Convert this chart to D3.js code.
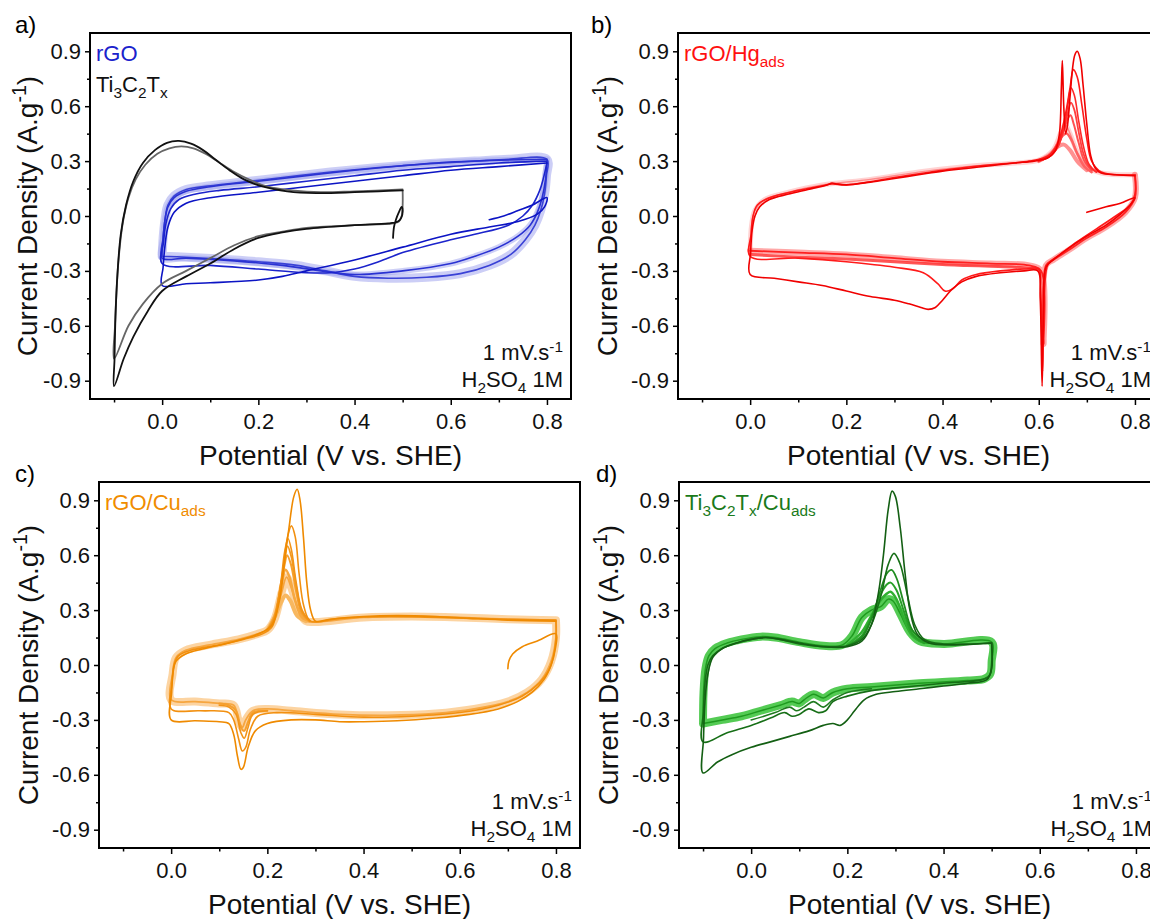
<!DOCTYPE html>
<html>
<head>
<meta charset="utf-8">
<script src="https://cdn.jsdelivr.net/npm/d3@7"></script>
<style>
  body { margin: 0; background: #fff; }
  svg { display: block; font-family: "Liberation Sans", Arial, sans-serif; }
</style>
</head>
<body>
<div id="chart"></div>
<script>
// cyclic voltammograms, points are [potential (V vs SHE), current density (A/g)]

// axis ticks
var xTicks = [0, 0.2, 0.4, 0.6, 0.8];
var xMinor = [-0.1, 0.1, 0.3, 0.5, 0.7];
var yTicks = [-0.9, -0.6, -0.3, 0, 0.3, 0.6, 0.9];
var yMinor = [-0.75, -0.45, -0.15, 0.15, 0.45, 0.75];

// a) rGO
var rgoCycle1 = [[0.68,-0.02],[0.71,0.0],[0.74,0.03],[0.77,0.06],[0.8,0.1],
  [0.795,0.05],[0.78,0.01],[0.74,-0.03],[0.68,-0.06],[0.6,-0.1],[0.5,-0.17],[0.4,-0.24],[0.3,-0.3],[0.25,-0.33],[0.2,-0.35],[0.1,-0.365],[0.05,-0.37],[0.0,-0.38],
  [0.002,-0.28],[0.006,-0.16],[0.012,-0.06],[0.025,0.02],[0.05,0.07],[0.1,0.1],[0.2,0.13],[0.3,0.16],[0.4,0.19],[0.5,0.22],[0.6,0.25],[0.7,0.27],[0.8,0.29]];
var rgoCycle2 = [[0.8,0.29],[0.792,0.2],[0.785,0.14],[0.77,0.06],[0.75,0.0],[0.72,-0.05],[0.65,-0.1],[0.6,-0.13],[0.5,-0.2],[0.45,-0.25],[0.4,-0.29],[0.35,-0.31],[0.3,-0.31],[0.2,-0.29],[0.1,-0.27],[0.0,-0.26],
  [0.003,-0.14],[0.008,-0.04],[0.018,0.04],[0.035,0.09],[0.07,0.12],[0.12,0.14],[0.2,0.16],[0.3,0.19],[0.4,0.22],[0.5,0.25],[0.6,0.27],[0.7,0.29],[0.8,0.3]];
var rgoCycle3 = [[0.8,0.3],[0.797,0.2],[0.79,0.1],[0.78,0.02],[0.765,-0.05],[0.74,-0.11],[0.7,-0.17],[0.65,-0.22],[0.6,-0.26],[0.5,-0.3],[0.4,-0.32],[0.33,-0.3],[0.25,-0.27],[0.15,-0.245],[0.05,-0.23],[0.0,-0.23],
  [0.002,-0.12],[0.006,-0.02],[0.012,0.05],[0.025,0.1],[0.05,0.135],[0.1,0.16],[0.2,0.19],[0.3,0.22],[0.4,0.25],[0.5,0.275],[0.6,0.295],[0.7,0.305],[0.8,0.31]];
var rgoLate = [[0.0,-0.22],[0.002,-0.12],[0.006,-0.02],[0.012,0.06],[0.025,0.11],[0.05,0.145],[0.1,0.165],[0.15,0.18],[0.25,0.21],[0.35,0.24],[0.45,0.265],[0.55,0.285],[0.65,0.3],[0.72,0.31],[0.8,0.31],
  [0.799,0.22],[0.795,0.12],[0.787,0.03],[0.775,-0.05],[0.755,-0.13],[0.725,-0.21],[0.68,-0.27],[0.62,-0.315],[0.55,-0.335],[0.47,-0.34],[0.4,-0.33],[0.34,-0.3],[0.28,-0.27],[0.2,-0.25],[0.12,-0.235],[0.05,-0.225],[0.0,-0.22]];

// a) Ti3C2Tx
var ti3c2Cycle1 = [[0.48,-0.12],[0.482,-0.06],[0.486,-0.02],[0.492,0.02],[0.498,0.05],[0.5,0.03],[0.497,-0.01],[0.49,-0.03],[0.47,-0.04],[0.4,-0.05],[0.3,-0.07],[0.25,-0.09],[0.2,-0.12],[0.15,-0.18],[0.1,-0.26],[0.05,-0.33],[0.0,-0.41],[-0.03,-0.52],[-0.06,-0.66],[-0.08,-0.78],[-0.1,-0.93],
  [-0.099,-0.78],[-0.097,-0.55],[-0.093,-0.32],[-0.086,-0.1],[-0.075,0.06],[-0.06,0.19],[-0.04,0.29],[-0.015,0.36],[0.01,0.4],[0.035,0.41],[0.06,0.395],[0.085,0.36],[0.11,0.31],[0.14,0.25],[0.17,0.2],[0.21,0.16],[0.26,0.135],[0.32,0.125],[0.4,0.13],[0.45,0.135],[0.5,0.14]];
var ti3c2Cycle2 = [[0.5,0.14],[0.5,0.06],[0.498,0.0],[0.492,-0.03],[0.48,-0.04],[0.4,-0.05],[0.3,-0.065],[0.25,-0.085],[0.2,-0.11],[0.15,-0.16],[0.1,-0.23],[0.05,-0.3],[0.0,-0.37],[-0.04,-0.48],[-0.07,-0.6],[-0.1,-0.78],
  [-0.098,-0.6],[-0.095,-0.42],[-0.09,-0.22],[-0.082,-0.04],[-0.07,0.1],[-0.055,0.2],[-0.035,0.28],[-0.01,0.34],[0.015,0.37],[0.04,0.38],[0.065,0.37],[0.09,0.34],[0.12,0.29],[0.15,0.24],[0.18,0.2],[0.22,0.16],[0.27,0.14],[0.33,0.13],[0.4,0.135],[0.5,0.145]];

// b) rGO/Hg ads
var hgCycle1 = [[0.7,0.02],[0.74,0.05],[0.77,0.07],[0.8,0.1],
  [0.79,0.06],[0.77,0.01],[0.74,-0.05],[0.7,-0.11],[0.66,-0.18],[0.63,-0.24],[0.615,-0.28],[0.61,-0.5],[0.607,-0.93],[0.603,-0.45],[0.598,-0.3],[0.57,-0.3],[0.52,-0.31],[0.47,-0.33],[0.44,-0.36],[0.42,-0.4],[0.4,-0.46],[0.385,-0.5],[0.37,-0.51],[0.355,-0.5],[0.33,-0.48],[0.3,-0.46],[0.25,-0.44],[0.2,-0.41],[0.15,-0.38],[0.1,-0.36],[0.05,-0.34],[0.0,-0.32],
  [0.001,-0.2],[0.004,-0.08],[0.01,0.0],[0.02,0.05],[0.04,0.09],[0.08,0.12],[0.12,0.145],[0.16,0.17],[0.17,0.18],[0.18,0.175],[0.2,0.17],[0.25,0.185],[0.3,0.205],[0.35,0.225],[0.4,0.245],[0.45,0.26],[0.5,0.275],[0.55,0.29],[0.59,0.3],[0.62,0.32],[0.635,0.36],[0.643,0.45],[0.647,0.7],[0.649,0.85],[0.652,0.6],[0.656,0.45],[0.66,0.5],[0.665,0.65],[0.67,0.8],[0.675,0.88],[0.68,0.9],[0.686,0.86],[0.692,0.72],[0.7,0.5],[0.708,0.33],[0.718,0.26],[0.73,0.235],[0.76,0.225],[0.8,0.22]];
var hgCycle2 = [[0.8,0.22],[0.8,0.12],[0.79,0.06],[0.76,0.0],[0.72,-0.07],[0.68,-0.14],[0.645,-0.21],[0.62,-0.26],[0.612,-0.4],[0.608,-0.85],[0.604,-0.4],[0.6,-0.29],[0.57,-0.29],[0.52,-0.3],[0.47,-0.32],[0.44,-0.35],[0.42,-0.4],[0.405,-0.41],[0.39,-0.37],[0.36,-0.31],[0.3,-0.28],[0.2,-0.25],[0.1,-0.23],[0.0,-0.22],
  [0.002,-0.1],[0.006,0.0],[0.015,0.06],[0.04,0.1],[0.1,0.14],[0.15,0.165],[0.17,0.175],[0.2,0.17],[0.3,0.21],[0.4,0.25],[0.5,0.28],[0.58,0.3],[0.62,0.33],[0.64,0.4],[0.655,0.55],[0.665,0.7],[0.672,0.8],[0.68,0.76],[0.69,0.6],[0.7,0.42],[0.71,0.3],[0.73,0.24],[0.8,0.225]];
var hgLateCathodic = [[0.8,0.225],[0.8,0.1],[0.78,0.02],[0.74,-0.06],[0.7,-0.12],[0.66,-0.19],[0.63,-0.24],[0.615,-0.27],[0.61,-0.7],[0.605,-0.3],[0.58,-0.27],[0.5,-0.26],[0.4,-0.25],[0.3,-0.23],[0.2,-0.21],[0.1,-0.2],[0.0,-0.19]];
var hgLateAnodic = [[0.0,-0.19],[0.003,-0.05],[0.01,0.03],[0.03,0.09],[0.08,0.13],[0.15,0.17],[0.25,0.2],[0.35,0.24],[0.45,0.27],[0.55,0.29],[0.6,0.305],[0.63,0.36],[0.645,0.45],[0.655,0.5],[0.665,0.45],[0.68,0.35],[0.7,0.27],[0.73,0.235],[0.8,0.225]];
var hgMidCathodic = [[0.6,-0.29],[0.55,-0.28],[0.5,-0.275],[0.45,-0.27],[0.4,-0.265],[0.3,-0.25],[0.2,-0.235],[0.1,-0.225],[0.0,-0.21]];
var hgPeak3 = [[0.6,0.3],[0.625,0.33],[0.64,0.38],[0.652,0.48],[0.66,0.6],[0.667,0.7],[0.674,0.66],[0.683,0.52],[0.693,0.38],[0.705,0.28],[0.72,0.24]];
var hgPeak4 = [[0.6,0.3],[0.625,0.33],[0.64,0.38],[0.652,0.47],[0.66,0.56],[0.667,0.62],[0.674,0.58],[0.683,0.46],[0.693,0.34],[0.705,0.27],[0.72,0.24]];
var hgPeak5 = [[0.6,0.3],[0.625,0.33],[0.64,0.39],[0.652,0.47],[0.66,0.53],[0.666,0.55],[0.673,0.5],[0.683,0.4],[0.695,0.3],[0.71,0.25]];
var hgPeak6 = [[0.6,0.3],[0.625,0.34],[0.64,0.4],[0.65,0.44],[0.658,0.45],[0.667,0.42],[0.68,0.34],[0.695,0.27],[0.71,0.24]];
var hgPeak7 = [[0.6,0.3],[0.625,0.34],[0.64,0.38],[0.652,0.39],[0.665,0.36],[0.68,0.3],[0.7,0.25]];

// c) rGO/Cu ads
var cuCycle1 = [[0.7,-0.02],[0.702,0.02],[0.71,0.06],[0.73,0.1],[0.76,0.13],[0.8,0.17],
  [0.798,0.08],[0.79,0.0],[0.775,-0.08],[0.75,-0.15],[0.72,-0.2],[0.68,-0.24],[0.62,-0.27],[0.55,-0.29],[0.47,-0.305],[0.4,-0.31],[0.35,-0.31],[0.3,-0.3],[0.25,-0.3],[0.2,-0.32],[0.175,-0.36],[0.16,-0.45],[0.15,-0.56],[0.145,-0.57],[0.138,-0.5],[0.13,-0.38],[0.12,-0.32],[0.1,-0.31],[0.05,-0.305],[0.0,-0.3],
  [0.001,-0.15],[0.004,-0.04],[0.01,0.02],[0.03,0.06],[0.07,0.09],[0.12,0.12],[0.16,0.15],[0.19,0.18],[0.21,0.22],[0.225,0.35],[0.235,0.55],[0.245,0.75],[0.255,0.92],[0.262,0.96],[0.268,0.9],[0.275,0.7],[0.282,0.45],[0.29,0.3],[0.3,0.24],[0.33,0.25],[0.4,0.265],[0.47,0.27],[0.55,0.265],[0.62,0.255],[0.7,0.245],[0.8,0.24]];
var cuCycle2 = [[0.8,0.24],[0.8,0.15],[0.795,0.05],[0.785,-0.03],[0.765,-0.1],[0.73,-0.17],[0.68,-0.22],[0.6,-0.26],[0.5,-0.28],[0.4,-0.285],[0.3,-0.27],[0.22,-0.26],[0.18,-0.28],[0.165,-0.35],[0.155,-0.45],[0.148,-0.47],[0.14,-0.4],[0.13,-0.3],[0.12,-0.26],[0.06,-0.25],[0.0,-0.24],
  [0.002,-0.1],[0.006,0.0],[0.015,0.05],[0.04,0.08],[0.1,0.11],[0.15,0.14],[0.19,0.17],[0.21,0.21],[0.222,0.33],[0.232,0.5],[0.242,0.7],[0.25,0.76],[0.258,0.7],[0.266,0.5],[0.276,0.32],[0.29,0.24],[0.35,0.255],[0.45,0.265],[0.55,0.26],[0.7,0.25],[0.8,0.245]];
var cuLate = [[0.8,0.245],[0.8,0.15],[0.79,0.02],[0.77,-0.08],[0.74,-0.15],[0.7,-0.2],[0.63,-0.24],[0.55,-0.265],[0.45,-0.275],[0.35,-0.27],[0.25,-0.25],[0.2,-0.24],[0.17,-0.25],[0.155,-0.3],[0.148,-0.34],[0.14,-0.3],[0.13,-0.22],[0.1,-0.21],[0.05,-0.2],[0.0,-0.19],
  [0.003,-0.05],[0.01,0.04],[0.03,0.08],[0.08,0.11],[0.14,0.14],[0.18,0.17],[0.2,0.19],[0.215,0.25],[0.23,0.4],[0.24,0.48],[0.25,0.42],[0.265,0.3],[0.28,0.24],[0.3,0.235],[0.4,0.26],[0.5,0.265],[0.6,0.26],[0.7,0.25],[0.8,0.245]];
var cuPeak3 = [[0.2,0.19],[0.215,0.26],[0.228,0.45],[0.236,0.62],[0.243,0.69],[0.25,0.63],[0.26,0.45],[0.272,0.3],[0.288,0.24]];
var cuPeak4 = [[0.2,0.19],[0.215,0.26],[0.228,0.44],[0.236,0.58],[0.242,0.65],[0.25,0.59],[0.26,0.43],[0.272,0.29],[0.288,0.24]];
var cuPeak5 = [[0.2,0.19],[0.215,0.26],[0.228,0.43],[0.236,0.55],[0.241,0.6],[0.249,0.55],[0.26,0.4],[0.272,0.28],[0.288,0.24]];
var cuPeak6 = [[0.2,0.19],[0.215,0.27],[0.228,0.42],[0.238,0.52],[0.246,0.48],[0.258,0.35],[0.272,0.26],[0.288,0.24]];
var cuPeak7 = [[0.2,0.19],[0.215,0.26],[0.228,0.34],[0.238,0.38],[0.248,0.35],[0.262,0.27],[0.28,0.24]];
var cuDip3 = [[0.2,-0.25],[0.17,-0.27],[0.16,-0.34],[0.152,-0.4],[0.145,-0.37],[0.135,-0.27],[0.12,-0.23],[0.1,-0.22]];
var cuDip4 = [[0.2,-0.25],[0.17,-0.26],[0.16,-0.31],[0.152,-0.36],[0.145,-0.34],[0.135,-0.25],[0.12,-0.22],[0.1,-0.21]];

// d) Ti3C2Tx/Cu ads
var cuTiCycle1 = [[0.5,0.12],[0.5,-0.02],[0.49,-0.08],[0.45,-0.1],[0.4,-0.115],[0.35,-0.13],[0.3,-0.145],[0.26,-0.16],[0.235,-0.19],[0.215,-0.25],[0.2,-0.3],[0.185,-0.33],[0.17,-0.32],[0.15,-0.33],[0.12,-0.36],[0.08,-0.39],[0.04,-0.42],[0.0,-0.45],[-0.04,-0.49],[-0.07,-0.53],[-0.1,-0.59],
  [-0.099,-0.4],[-0.096,-0.2],[-0.09,-0.05],[-0.08,0.04],[-0.06,0.09],[-0.03,0.12],[0.0,0.14],[0.03,0.15],[0.06,0.14],[0.1,0.12],[0.15,0.1],[0.2,0.1],[0.23,0.13],[0.25,0.22],[0.265,0.4],[0.275,0.6],[0.285,0.85],[0.293,0.95],[0.3,0.92],[0.31,0.75],[0.32,0.5],[0.33,0.3],[0.345,0.17],[0.37,0.12],[0.42,0.11],[0.5,0.12]];
var cuTiCycle2 = [[0.5,0.12],[0.5,0.0],[0.495,-0.06],[0.48,-0.08],[0.4,-0.1],[0.3,-0.125],[0.25,-0.14],[0.2,-0.17],[0.17,-0.2],[0.155,-0.25],[0.14,-0.26],[0.12,-0.24],[0.1,-0.27],[0.085,-0.28],[0.07,-0.26],[0.04,-0.29],[0.0,-0.33],[-0.05,-0.37],[-0.1,-0.42],
  [-0.099,-0.25],[-0.096,-0.1],[-0.09,0.0],[-0.08,0.05],[-0.06,0.09],[-0.03,0.12],[0.0,0.14],[0.03,0.15],[0.06,0.14],[0.1,0.115],[0.15,0.1],[0.2,0.105],[0.23,0.14],[0.25,0.22],[0.27,0.38],[0.285,0.55],[0.297,0.61],[0.31,0.55],[0.325,0.38],[0.34,0.22],[0.36,0.14],[0.4,0.115],[0.45,0.115],[0.5,0.12]];
var cuTiLate = [[-0.1,-0.32],[-0.099,-0.15],[-0.095,-0.02],[-0.088,0.05],[-0.075,0.09],[-0.05,0.12],[-0.02,0.14],[0.02,0.155],[0.05,0.15],[0.1,0.125],[0.15,0.105],[0.19,0.11],[0.21,0.16],[0.23,0.26],[0.25,0.3],[0.27,0.32],[0.285,0.36],[0.295,0.35],[0.31,0.28],[0.33,0.18],[0.35,0.13],[0.4,0.115],[0.5,0.125],
  [0.5,0.02],[0.497,-0.05],[0.485,-0.075],[0.45,-0.085],[0.35,-0.1],[0.25,-0.12],[0.2,-0.13],[0.17,-0.15],[0.15,-0.18],[0.13,-0.16],[0.11,-0.19],[0.1,-0.21],[0.085,-0.2],[0.06,-0.22],[0.02,-0.25],[-0.02,-0.28],[-0.06,-0.3],[-0.1,-0.32]];
var cuTiPeak3 = [[0.2,0.105],[0.23,0.15],[0.25,0.25],[0.268,0.4],[0.282,0.5],[0.292,0.52],[0.303,0.47],[0.318,0.33],[0.335,0.19],[0.36,0.13]];
var cuTiPeak4 = [[0.2,0.105],[0.23,0.16],[0.25,0.26],[0.268,0.38],[0.282,0.44],[0.29,0.45],[0.302,0.41],[0.318,0.29],[0.335,0.17],[0.36,0.12]];
var cuTiPeak5 = [[0.2,0.11],[0.23,0.18],[0.25,0.27],[0.268,0.35],[0.282,0.39],[0.29,0.4],[0.302,0.36],[0.318,0.25],[0.335,0.16],[0.36,0.12]];
var cuTiDip3 = [[0.25,-0.13],[0.2,-0.15],[0.17,-0.19],[0.15,-0.23],[0.13,-0.2],[0.11,-0.23],[0.095,-0.25],[0.08,-0.23],[0.05,-0.26],[0.0,-0.3]];

// panel texts: [text, "sub" | "sup" | ""]
var labelRgo = [["rGO"]];
var labelTi = [["Ti"],["3","sub"],["C"],["2","sub"],["T"],["x","sub"]];
var labelHg = [["rGO/Hg"],["ads","sub"]];
var labelCu = [["rGO/Cu"],["ads","sub"]];
var labelTiCu = [["Ti"],["3","sub"],["C"],["2","sub"],["T"],["x","sub"],["/Cu"],["ads","sub"]];
var labelRate = [["1 mV.s"],["-1","sup"]];
var labelAcid = [["H"],["2","sub"],["SO"],["4","sub"],[" 1M"]];
var yTitle = [["Current Density (A.g"],["-1","sup"],[")"]];
var xTitle = [["Potential (V vs. SHE)"]];

var W = 481, H = 366;

var svg = d3.select("#chart").append("svg")
  .attr("width", 1150).attr("height", 919);

function rich(text, parts, size) {
  var shift = 0;
  parts.forEach(function(p) {
    var mode = p[1] || "";
    var target = mode === "sub" ? 0.28 * size : (mode === "sup" ? -0.38 * size : 0);
    var ts = text.append("tspan").text(p[0]).attr("dy", target - shift);
    if (mode) ts.style("font-size", (size * 0.7) + "px");
    shift = target;
  });
}

var fmt = function(d) { return d.toFixed(1); };

function drawPanel(p, idx) {
  var g = svg.append("g").attr("transform", "translate(" + p.left + "," + p.top + ")");
  var x = d3.scaleLinear().domain([-0.15, 0.85]).range([0, W]);
  var y = d3.scaleLinear().domain([-1, 1]).range([H, 0]);

  g.append("clipPath").attr("id", "clip" + idx)
    .append("rect").attr("width", W).attr("height", H);

  var line = d3.line()
    .x(function(d) { return x(d[0]); })
    .y(function(d) { return y(d[1]); })
    .curve(d3.curveCatmullRom.alpha(0.5));

  var plot = g.append("g").attr("clip-path", "url(#clip" + idx + ")");
  p.curves.forEach(function(c) {
    plot.append("path")
      .datum(c.data)
      .attr("d", line)
      .attr("fill", "none")
      .attr("stroke", c.color)
      .attr("stroke-width", c.w)
      .attr("stroke-opacity", c.op || 1)
      .attr("stroke-linejoin", "round")
      .attr("stroke-linecap", "round");
  });

  // frame
  g.append("rect")
    .attr("width", W).attr("height", H)
    .attr("fill", "none").attr("stroke", "#000").attr("stroke-width", 2);

  // axes
  g.append("g").attr("transform", "translate(0," + H + ")")
    .call(d3.axisBottom(x).tickValues(xTicks).tickSize(6).tickPadding(8).tickFormat(fmt));
  g.append("g").attr("transform", "translate(0," + H + ")")
    .call(d3.axisBottom(x).tickValues(xMinor).tickSize(3.5).tickFormat(""));
  g.append("g")
    .call(d3.axisLeft(y).tickValues(yTicks).tickSize(5).tickPadding(4).tickFormat(fmt));
  g.append("g")
    .call(d3.axisLeft(y).tickValues(yMinor).tickSize(3).tickFormat(""));
  g.selectAll(".domain").remove();
  g.selectAll(".tick line").attr("stroke", "#000").attr("stroke-width", 1.5);
  g.selectAll(".tick text").style("font-size", "22px").attr("fill", "#111")
    .style("font-family", '"Liberation Sans", Arial, sans-serif');

  // axis titles
  var yt = svg.append("text")
    .attr("transform", "translate(" + p.yTitleX + "," + (p.top + H / 2) + ") rotate(-90)")
    .attr("text-anchor", "middle").style("font-size", "28px").attr("fill", "#111");
  rich(yt, yTitle, 28);
  var xt = svg.append("text")
    .attr("x", p.left + W / 2).attr("y", p.top + H + 66)
    .attr("text-anchor", "middle").style("font-size", "28px").attr("fill", "#111");
  rich(xt, xTitle, 28);

  // panel letter
  svg.append("text").attr("x", p.letterX).attr("y", p.top)
    .style("font-size", "24px").attr("fill", "#000").text(p.letter);

  // sample labels
  p.labels.forEach(function(l, i) {
    var t = g.append("text").attr("x", 6).attr("y", 28 + i * 31)
      .style("font-size", "22px").attr("fill", l.color);
    rich(t, l.parts, 22);
  });

  // conditions
  var r1 = g.append("text").attr("x", W - 8).attr("y", H - 39)
    .attr("text-anchor", "end").style("font-size", "22px").attr("fill", "#111");
  rich(r1, labelRate, 22);
  var r2 = g.append("text").attr("x", W - 8).attr("y", H - 12)
    .attr("text-anchor", "end").style("font-size", "22px").attr("fill", "#111");
  rich(r2, labelAcid, 22);
}

var panels = [
  { letter: "a)", letterX: 15, left: 90, top: 33, yTitleX: 37,
    labels: [{ parts: labelRgo, color: "#1a22cc" }, { parts: labelTi, color: "#111" }],
    curves: [
      { data: rgoLate, color: "#8e93ec", w: 9, op: 0.45 },
      { data: rgoCycle3, color: "#9ea2ee", w: 6, op: 0.5 },
      { data: rgoLate, color: "#3a42d6", w: 1.6 },
      { data: rgoCycle3, color: "#2a32d2", w: 1.6 },
      { data: rgoCycle2, color: "#1c24cc", w: 1.6 },
      { data: rgoCycle1, color: "#0c14c4", w: 1.6 },
      { data: ti3c2Cycle2, color: "#666", w: 1.8 },
      { data: ti3c2Cycle1, color: "#111", w: 1.8 }
    ] },
  { letter: "b)", letterX: 591, left: 678, top: 33, yTitleX: 617,
    labels: [{ parts: labelHg, color: "#ff1010" }],
    curves: [
      { data: hgLateAnodic, color: "#ffc0c0", w: 5, op: 0.7 },
      { data: hgLateAnodic, color: "#ff8a8a", w: 1.4 },
      { data: hgLateCathodic, color: "#ff6060", w: 6, op: 0.55 },
      { data: hgLateCathodic, color: "#ff2020", w: 1.8 },
      { data: hgMidCathodic, color: "#ff2a2a", w: 3, op: 0.8 },
      { data: hgPeak7, color: "#ff9090", w: 4 },
      { data: hgPeak6, color: "#ff6060", w: 2.5 },
      { data: hgPeak5, color: "#ff5050", w: 2 },
      { data: hgPeak4, color: "#ff4040", w: 1.8 },
      { data: hgPeak3, color: "#ff2a2a", w: 1.6 },
      { data: hgCycle2, color: "#ff1a1a", w: 1.6 },
      { data: hgCycle1, color: "#f00000", w: 1.6 }
    ] },
  { letter: "c)", letterX: 15, left: 99, top: 482, yTitleX: 38,
    labels: [{ parts: labelCu, color: "#f08c00" }],
    curves: [
      { data: cuLate, color: "#fbc27a", w: 8, op: 0.7 },
      { data: cuLate, color: "#f6a640", w: 1.8 },
      { data: cuPeak7, color: "#f8b860", w: 4 },
      { data: cuPeak6, color: "#f7a840", w: 2.5 },
      { data: cuPeak5, color: "#f5a030", w: 2 },
      { data: cuPeak4, color: "#f39a20", w: 1.8 },
      { data: cuPeak3, color: "#f29418", w: 1.6 },
      { data: cuDip4, color: "#f5a030", w: 2 },
      { data: cuDip3, color: "#f29418", w: 1.6 },
      { data: cuCycle2, color: "#f29010", w: 1.6 },
      { data: cuCycle1, color: "#ef8a00", w: 1.6 }
    ] },
  { letter: "d)", letterX: 596, left: 679, top: 482, yTitleX: 618,
    labels: [{ parts: labelTiCu, color: "#1a7a1a" }],
    curves: [
      { data: cuTiLate, color: "#36c236", w: 8, op: 0.85 },
      { data: cuTiLate, color: "#1f9a1f", w: 1.5 },
      { data: cuTiPeak5, color: "#30b030", w: 2.5 },
      { data: cuTiPeak4, color: "#28a028", w: 2 },
      { data: cuTiPeak3, color: "#1f8c1f", w: 1.8 },
      { data: cuTiDip3, color: "#1f7a1f", w: 1.6 },
      { data: cuTiCycle2, color: "#166e16", w: 1.6 },
      { data: cuTiCycle1, color: "#135f13", w: 1.6 }
    ] }
];

panels.forEach(drawPanel);
</script>
</body>
</html>
